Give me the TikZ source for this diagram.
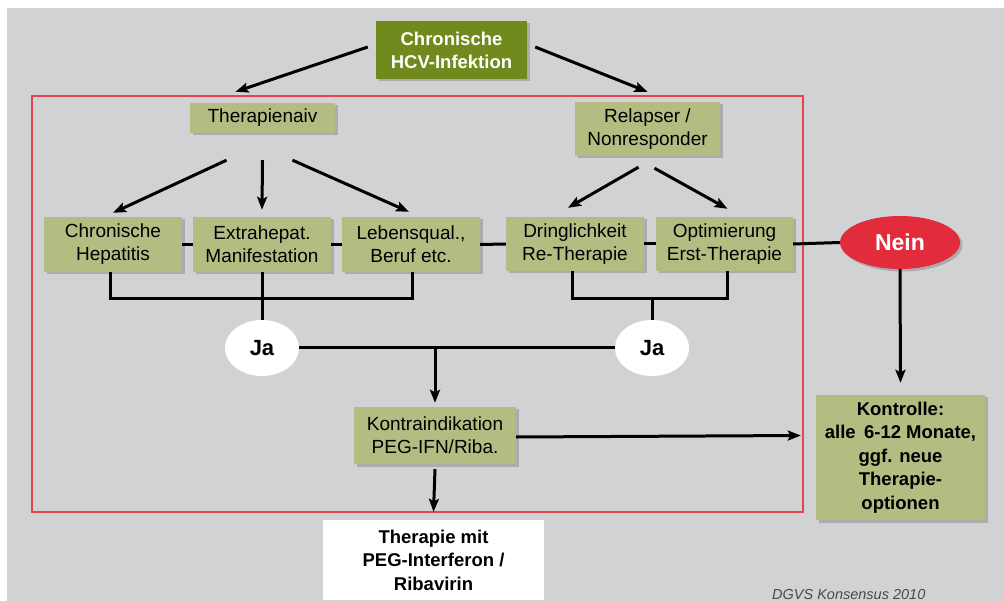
\documentclass[tikz,border=0pt]{standalone}
\usepackage{fontspec}
\setmainfont{Liberation Sans}
\usetikzlibrary{shapes.geometric,arrows.meta,shadows,calc}
\definecolor{bggray}{HTML}{D1D2D4}
\definecolor{olivebox}{HTML}{B4BC82}
\definecolor{darkolive}{HTML}{718A1E}
\definecolor{neinred}{HTML}{E22B3B}
\definecolor{framered}{HTML}{E8434F}
\definecolor{footgray}{HTML}{4A4A4A}
\begin{document}
\begin{tikzpicture}[x=1pt,y=-1pt,
  shad/.style={drop shadow={shadow xshift=2.5pt,shadow yshift=-2.5pt,fill=black,opacity=0.18}},
  gbox/.style={fill=olivebox, align=center, inner sep=0pt, shad,
    font=\fontsize{19}{23}\selectfont},
  bbox/.style={gbox, font=\fontsize{18.5}{23.5}\selectfont\bfseries},
  tbox/.style={fill=darkolive, text=white, align=center, inner sep=0pt, shad,
    font=\fontsize{18.5}{23}\selectfont\bfseries},
  jabox/.style={ellipse, fill=white, inner sep=0pt, minimum width=74pt, minimum height=56pt,
    font=\fontsize{22}{26}\selectfont\bfseries},
  neinbox/.style={ellipse, fill=neinred, text=white, inner sep=0pt, minimum width=120pt,
    minimum height=53pt, font=\fontsize{23}{27}\selectfont\bfseries, shad},
  ln/.style={line width=3pt, draw=black},
  arr/.style={ln, -{Stealth[length=13pt,width=10pt,inset=2.5pt]}},
]
\useasboundingbox (0,0) rectangle (1004,601);
\clip (0,0) rectangle (1004,601);
\fill[white] (0,0) rectangle (1004,601);
\fill[bggray] (7,8) rectangle (1004,601);

% red frame
\draw[framered, line width=1.1pt] (32,96) rectangle (803,512);

% nodes
\node[tbox, minimum width=151pt, minimum height=58pt] (top) at (451.5,50) {Chronische\\HCV-Infektion};
\node[gbox, minimum width=145pt, minimum height=30pt] (tn) at (262.5,118) {Therapienaiv};
\node[gbox, minimum width=145pt, minimum height=54pt] (rn) at (647.5,129) {Relapser /\\Nonresponder};

\node[gbox, minimum width=138pt, minimum height=55pt] (ch) at (113,244.5) {Chronische\\Hepatitis};
\node[gbox, minimum width=138pt, minimum height=55pt] (ex) at (262,244.5) {Extrahepat.\\Manifestation};
\node[gbox, minimum width=138pt, minimum height=55pt] (le) at (411,244.5) {Lebensqual.,\\Beruf etc.};
\node[gbox, minimum width=138pt, minimum height=54pt] (dr) at (575,244) {Dringlichkeit\\Re-Therapie};
\node[gbox, minimum width=137pt, minimum height=54pt] (op) at (724.5,244) {Optimierung\\Erst-Therapie};
\node[neinbox] (nein) at (900,242.5) {Nein};

\node[jabox] (jaL) at (262,348) {Ja};
\node[jabox] (jaR) at (652,348) {Ja};

\node[gbox, minimum width=162pt, minimum height=57pt] (ki) at (435,435.5) {Kontraindikation\\PEG-IFN/Riba.};
\node[bbox, minimum width=169pt, minimum height=125pt] (ko) at (900.5,457.5)
  {Kontrolle:\\alle\hspace{0.45em}6-12 Monate,\\ggf. neue\\Therapie-\\optionen};
\node[fill=white, align=center, inner sep=0pt, minimum width=221pt, minimum height=80pt,
  font=\fontsize{18.5}{23.5}\selectfont\bfseries] (th) at (433.5,560)
  {Therapie mit\\PEG-Interferon /\\Ribavirin};

% connectors from top
\draw[arr] ([shift={(-8,-3)}]top.west) -- ([shift={(-27,-11)}]tn.north);
\draw[arr] ([shift={(8,-3)}]top.east) -- ([shift={(0,-10)}]rn.north);

% from Therapienaiv
\draw[arr] ([shift={(-36,27)}]tn.south) -- ([yshift=4pt]ch.north);
\draw[arr] ([shift={(0,27)}]tn.south) -- ([yshift=7pt]ex.north);
\draw[arr] ([shift={(30,27)}]tn.south) -- ([shift={(-2,-5)}]le.north);

% from Relapser
\draw[arr] ([shift={(-9,11)}]rn.south) -- ([shift={(-7,-9)}]dr.north);
\draw[arr] ([shift={(7,12)}]rn.south) -- ([shift={(3,-8)}]op.north);

% horizontal row line
\draw[ln] (ch.east) -- (ex.west);
\draw[ln] (ex.east) -- (le.west);
\draw[ln] (le.east) -- (dr.west);
\draw[ln] (dr.east) -- (op.west);
\draw[ln] (op.east) -- (nein.west);

% brackets
\draw[ln] ([xshift=-3pt]ch.south) -- ++(0,26) -| ([xshift=1pt]le.south);
\draw[ln] (ex.south) -- (jaL.north);
\draw[ln] ([xshift=-3pt]dr.south) -- ++(0,27) coordinate (brR) -| ([xshift=2.5pt]op.south);
\draw[ln] (jaR.north) -- (jaR.north |- brR);

% Ja line and down arrow
\draw[ln] (jaL.east) -- (jaR.west);
\draw[arr] (ki.north |- jaL.east) -- ([yshift=4pt]ki.north);

% Nein down
\draw[arr] (nein.south) -- ([yshift=12pt]ko.north);

% Kontraindikation right and down
\draw[arr] ([yshift=-1.5pt]ki.east) -- ([shift={(-15,0)}]ki.east -| ko.west);
\draw[arr] ([yshift=-5pt]ki.south) -- ([yshift=8pt]th.north);

% footer
\node[anchor=base west, inner sep=0pt, text=footgray,
  font=\fontsize{14.5}{16}\selectfont\itshape] (foot) at (772,599) {DGVS Konsensus 2010};
\end{tikzpicture}
\end{document}
